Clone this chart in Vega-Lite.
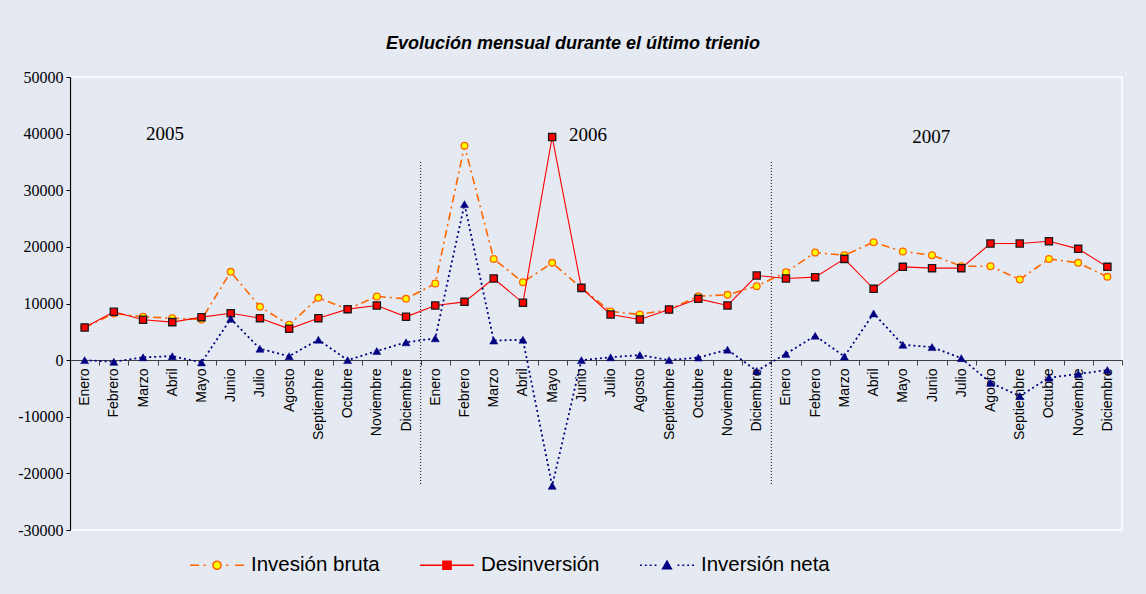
{
  "$schema": "https://vega.github.io/schema/vega-lite/v6.json",
  "width": 1052,
  "height": 453,
  "autosize": {"type": "none"},
  "padding": {"left": 70, "top": 77, "right": 24, "bottom": 64},
  "background": "#E5E9F1",
  "view": {"stroke": "#FFFFFF", "strokeWidth": 1.5},
  "title": {
    "text": "Evolución mensual durante el último trienio",
    "font": "Liberation Sans",
    "fontSize": 18,
    "fontWeight": "bold",
    "fontStyle": "italic",
    "color": "#000000",
    "anchor": "middle",
    "frame": "group",
    "dx": -23,
    "offset": 16
  },
  "datasets": {
    "main": [
      {"t": "2005-01", "bruta": 5760, "desinv": 5760, "neta": 0},
      {"t": "2005-02", "bruta": 8230, "desinv": 8530, "neta": -300},
      {"t": "2005-03", "bruta": 7650, "desinv": 7120, "neta": 500},
      {"t": "2005-04", "bruta": 7410, "desinv": 6710, "neta": 700},
      {"t": "2005-05", "bruta": 7180, "desinv": 7590, "neta": -400},
      {"t": "2005-06", "bruta": 15590, "desinv": 8290, "neta": 7300},
      {"t": "2005-07", "bruta": 9410, "desinv": 7410, "neta": 2000},
      {"t": "2005-08", "bruta": 6240, "desinv": 5530, "neta": 700},
      {"t": "2005-09", "bruta": 11000, "desinv": 7410, "neta": 3600},
      {"t": "2005-10", "bruta": 9000, "desinv": 9000, "neta": 0},
      {"t": "2005-11", "bruta": 11240, "desinv": 9650, "neta": 1600},
      {"t": "2005-12", "bruta": 10820, "desinv": 7650, "neta": 3150},
      {"t": "2006-01", "bruta": 13530, "desinv": 9650, "neta": 3850},
      {"t": "2006-02", "bruta": 37880, "desinv": 10290, "neta": 27550},
      {"t": "2006-03", "bruta": 17880, "desinv": 14410, "neta": 3450},
      {"t": "2006-04", "bruta": 13760, "desinv": 10120, "neta": 3600},
      {"t": "2006-05", "bruta": 17180, "desinv": 39410, "neta": -22200},
      {"t": "2006-06", "bruta": 12760, "desinv": 12760, "neta": 0},
      {"t": "2006-07", "bruta": 8590, "desinv": 8060, "neta": 500},
      {"t": "2006-08", "bruta": 8060, "desinv": 7180, "neta": 900},
      {"t": "2006-09", "bruta": 8940, "desinv": 8940, "neta": 0},
      {"t": "2006-10", "bruta": 11290, "desinv": 10820, "neta": 450},
      {"t": "2006-11", "bruta": 11530, "desinv": 9650, "neta": 1850},
      {"t": "2006-12", "bruta": 13060, "desinv": 14940, "neta": -1900},
      {"t": "2007-01", "bruta": 15530, "desinv": 14410, "neta": 1100},
      {"t": "2007-02", "bruta": 19000, "desinv": 14650, "neta": 4300},
      {"t": "2007-03", "bruta": 18530, "desinv": 17880, "neta": 650},
      {"t": "2007-04", "bruta": 20820, "desinv": 12590, "neta": 8250},
      {"t": "2007-05", "bruta": 19180, "desinv": 16470, "neta": 2700},
      {"t": "2007-06", "bruta": 18530, "desinv": 16240, "neta": 2300},
      {"t": "2007-07", "bruta": 16590, "desinv": 16240, "neta": 350},
      {"t": "2007-08", "bruta": 16590, "desinv": 20590, "neta": -4000},
      {"t": "2007-09", "bruta": 14240, "desinv": 20590, "neta": -6350},
      {"t": "2007-10", "bruta": 17880, "desinv": 21000, "neta": -3100},
      {"t": "2007-11", "bruta": 17180, "desinv": 19650, "neta": -2450},
      {"t": "2007-12", "bruta": 14710, "desinv": 16470, "neta": -1750}
    ],
    "separators": [{"t": "2006-01"}, {"t": "2007-01"}]
  },
  "data": {"name": "main"},
  "encoding": {
    "x": {
      "field": "t",
      "type": "ordinal",
      "bandPosition": 0.5,
      "scale": {"type": "band", "paddingInner": 0, "paddingOuter": 0},
      "axis": {
        "title": null,
        "orient": "bottom",
        "offset": -170,
        "tickBand": "extent",
        "domainColor": "#404040",
        "domainWidth": 1.2,
        "tickColor": "#404040",
        "tickSize": 5,
        "labelAngle": 270,
        "labelFont": "Liberation Sans",
        "labelFontSize": 14,
        "labelColor": "#000000",
        "labelPadding": 3,
        "labelOverlap": false,
        "grid": false,
        "labelExpr": "['Enero','Febrero','Marzo','Abril','Mayo','Junio','Julio','Agosto','Septiembre','Octubre','Noviembre','Diciembre'][toNumber(substring(datum.value,5,7))-1]"
      }
    }
  },
  "layer": [
    {
      "data": {"name": "separators"},
      "mark": {"type": "rule", "color": "#000000", "strokeDash": [1, 2], "strokeWidth": 1},
      "encoding": {
        "x": {"field": "t", "type": "ordinal", "bandPosition": 0},
        "y": {"datum": 35000, "type": "quantitative"},
        "y2": {"datum": -22000}
      }
    },
    {
      "mark": {"type": "line", "strokeDash": [8, 4, 2, 4], "strokeWidth": 1.6},
      "encoding": {
        "y": {
          "field": "bruta",
          "type": "quantitative",
          "scale": {"domain": [-30000, 50000], "nice": false, "zero": false},
          "axis": {
            "title": null,
            "values": [-30000, -20000, -10000, 0, 10000, 20000, 30000, 40000, 50000],
            "grid": false,
            "domainColor": "#000000",
            "domainWidth": 1.2,
            "tickColor": "#000000",
            "tickSize": 4,
            "labelFont": "Liberation Serif",
            "labelFontSize": 16,
            "labelColor": "#000000",
            "labelPadding": 3,
            "labelExpr": "datum.value < 0 ? '-' + (-datum.value) : '' + datum.value"
          }
        },
        "color": {
          "datum": "Invesión bruta",
          "type": "nominal",
          "scale": {
            "domain": ["Invesión bruta", "Desinversión", "Inversión neta"],
            "range": ["#FF6600", "#FF0000", "#000080"]
          },
          "legend": {
            "title": null,
            "orient": "none",
            "legendX": 119,
            "legendY": 460,
            "direction": "horizontal",
            "padding": 0,
            "symbolSize": 2916,
            "symbolStrokeWidth": 1.6,
            "labelFont": "Liberation Sans",
            "labelFontSize": 20.5,
            "labelColor": "#000000",
            "labelOffset": 6,
            "labelLimit": 300,
            "columnPadding": 36,
            "encode": {
              "symbols": {
                "update": {
                  "shape": {"signal": "datum.value === 'Invesión bruta' ? 'M-1,0H-0.67M-0.5,0H-0.42M0.34,0H0.42M0.67,0H1M-0.15,0A0.15,0.15,0,1,0,0.15,0A0.15,0.15,0,1,0,-0.15,0Z' : datum.value === 'Desinversión' ? 'M-1,0H1M-0.15,-0.15H0.15V0.15H-0.15Z' : 'M-1,0H-0.93M-0.82,0H-0.75M-0.64,0H-0.57M-0.46,0H-0.39M0.39,0H0.46M0.57,0H0.64M0.75,0H0.82M0.93,0H1M-0.16,0.13L0,-0.15L0.16,0.13Z'"},
                  "stroke": {"signal": "datum.value === 'Invesión bruta' ? '#FF6600' : datum.value === 'Desinversión' ? '#FF0000' : '#000080'"},
                  "fill": {"signal": "datum.value === 'Invesión bruta' ? '#FFFF00' : datum.value === 'Desinversión' ? '#FF0000' : '#000080'"},
                  "strokeDash": {"value": [1, 0]},
                  "strokeWidth": {"value": 1.6},
                  "opacity": {"value": 1}
                }
              }
            }
          }
        }
      }
    },
    {
      "mark": {"type": "point", "shape": "circle", "filled": true, "fill": "#FFFF00", "stroke": "#FF6600", "strokeWidth": 1.3, "size": 45, "opacity": 1},
      "encoding": {"y": {"field": "bruta", "type": "quantitative"}}
    },
    {
      "mark": {"type": "line", "strokeWidth": 1.1},
      "encoding": {
        "y": {"field": "desinv", "type": "quantitative"},
        "color": {"datum": "Desinversión", "type": "nominal"}
      }
    },
    {
      "mark": {"type": "point", "shape": "square", "filled": true, "fill": "#FF0000", "stroke": "#1A1A1A", "strokeWidth": 1.3, "size": 52, "opacity": 1},
      "encoding": {"y": {"field": "desinv", "type": "quantitative"}}
    },
    {
      "mark": {"type": "line", "strokeDash": [2, 3], "strokeWidth": 1.8},
      "encoding": {
        "y": {"field": "neta", "type": "quantitative"},
        "color": {"datum": "Inversión neta", "type": "nominal"}
      }
    },
    {
      "mark": {"type": "point", "shape": "triangle-up", "filled": true, "fill": "#000080", "stroke": "#000080", "strokeWidth": 0.5, "size": 65, "opacity": 1},
      "encoding": {"y": {"field": "neta", "type": "quantitative"}}
    },
    {
      "data": {"values": [{"t": "2005-04", "label": "2005"}]},
      "mark": {"type": "text", "font": "Liberation Serif", "fontSize": 19, "color": "#000000", "align": "center", "baseline": "middle"},
      "encoding": {
        "x": {"field": "t", "type": "ordinal", "bandPosition": 0.25},
        "y": {"datum": 40000, "type": "quantitative"},
        "text": {"field": "label"}
      }
    },
    {
      "data": {"values": [{"t": "2006-06", "label": "2006"}]},
      "mark": {"type": "text", "font": "Liberation Serif", "fontSize": 19, "color": "#000000", "align": "center", "baseline": "middle"},
      "encoding": {
        "x": {"field": "t", "type": "ordinal", "bandPosition": 0.73},
        "y": {"datum": 39800, "type": "quantitative"},
        "text": {"field": "label"}
      }
    },
    {
      "data": {"values": [{"t": "2007-06", "label": "2007"}]},
      "mark": {"type": "text", "font": "Liberation Serif", "fontSize": 19, "color": "#000000", "align": "center", "baseline": "middle"},
      "encoding": {
        "x": {"field": "t", "type": "ordinal", "bandPosition": 0.47},
        "y": {"datum": 39400, "type": "quantitative"},
        "text": {"field": "label"}
      }
    }
  ]
}
